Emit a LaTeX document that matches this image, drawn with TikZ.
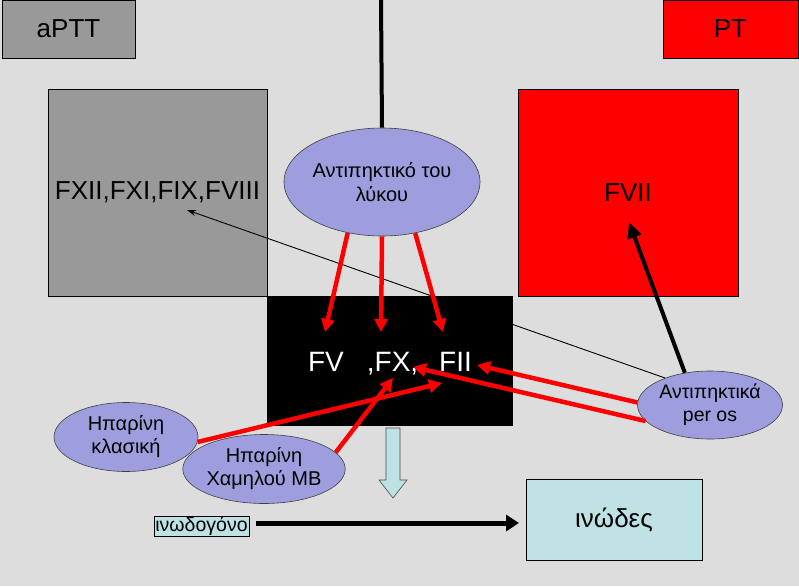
\documentclass[tikz,border=0pt]{standalone}
\usepackage{fontspec}
\setmainfont{Liberation Sans}
\usetikzlibrary{shapes.geometric,arrows.meta}
\definecolor{bg}{RGB}{221,221,221}
\definecolor{boxgray}{RGB}{153,153,153}
\definecolor{lav}{RGB}{158,158,222}
\definecolor{ice}{RGB}{190,225,228}
\definecolor{pred}{RGB}{255,0,0}
\begin{document}
\begin{tikzpicture}[x=1pt,y=-1pt,
  sqbox/.style={draw=black,line width=0.8pt,inner sep=0pt,font=\fontsize{26}{30}\selectfont},
  oval/.style={ellipse,draw=black!75,line width=0.6pt,fill=lav,inner sep=0pt,align=center},
  redarrow/.style={draw=pred,line width=4.5pt,-{Triangle[length=13pt,width=13pt]}},
  blackarrow/.style={draw=black,line width=4pt,-{Triangle[length=16pt,width=14pt]}},
  thinarrow/.style={draw=black,line width=0.9pt,-{Stealth[length=9pt,width=6pt]}}]
\fill[bg] (0,0) rectangle (799,586);
\useasboundingbox (0,0) rectangle (799,586);

% top labels
\node[sqbox,fill=boxgray,minimum width=133pt,minimum height=58pt] (aptt) at (68.5,29) {aPTT};
\node[sqbox,fill=pred,minimum width=135pt,minimum height=58pt] (pt) at (730.5,29) {PT};

% factor boxes
\node[sqbox,fill=boxgray,minimum width=219pt,minimum height=207pt] (intr) at (157.5,192.5) {FXII,FXI,FIX,FVIII};
\node[sqbox,fill=pred,minimum width=220pt,minimum height=207pt] (extr) at (628,192.5) {FVII};

% ellipses
\node[oval,minimum width=190pt,minimum height=108pt,font=\fontsize{20}{24}\selectfont] (lupus) at (382,182) {Αντιπηκτικό του\\λύκου};
\node[oval,minimum width=145pt,minimum height=68pt,font=\fontsize{19.5}{23}\selectfont] (peros) at (710,405) {Αντιπηκτικά\\per os};

% thin arrow (behind common box)
\coordinate (fixtip) at (187,210);
\draw[thinarrow] (peros.149) -- (fixtip);

% common pathway box
\node[sqbox,fill=black,minimum width=245pt,minimum height=129pt] (common) at (389.5,360.5) {};
\node[text=white,font=\fontsize{28}{32}\selectfont,inner sep=0pt] (commontxt) at (390,364) {FV\hspace{23pt},FX,\hspace{21pt}FII};

% vertical line from top to lupus ellipse
\coordinate (topline) at (381,0);
\draw[line width=4pt] (topline) -- (lupus.north);

% heparin ellipses
\node[oval,minimum width=144pt,minimum height=69pt,font=\fontsize{20}{23}\selectfont] (hepc) at (126,437) {Ηπαρίνη\\κλασική};
\node[oval,minimum width=145pt,minimum height=69pt,font=\fontsize{20}{23}\selectfont] (hepl) at (264,469) {Ηπαρίνη\\Χαμηλού ΜΒ};

% target points
\coordinate (tFV) at (325,332);
\coordinate (tFX) at (381,332);
\coordinate (tFII) at (443,332);
\coordinate (tComma) at (413,367);
\coordinate (tFIIr) at (477,365);
\coordinate (tHepC) at (442,383);
\coordinate (tHepL) at (393,378);
\coordinate (tFVII) at (629,222);

% red arrows from lupus anticoagulant
\draw[redarrow] (lupus.236) -- (tFV);
\draw[redarrow] (lupus.270) -- (tFX);
\draw[redarrow] (lupus.303) -- (tFII);

% red arrows from oral anticoagulants
\draw[redarrow] (peros.178) -- (tFIIr);
\draw[redarrow] (peros.194) -- (tComma);

% red arrows from heparins
\draw[redarrow] (hepc.356) -- (tHepC);
\draw[redarrow] (hepl.13) -- (tHepL);

% thick arrow to FVII
\draw[blackarrow] (peros.128) -- (tFVII);

% block down arrow
\draw[fill=ice,draw=black!70,line width=0.6pt]
  (386,428) -- (400,428) -- (400,480) -- (407,480) -- (393,498) -- (379,480) -- (386,480) -- cycle;

% fibrinogen -> fibrin
\node[draw=black,line width=0.8pt,fill=ice,inner sep=0.5pt,minimum width=95pt,minimum height=19pt,font=\fontsize{19.5}{21}\selectfont] (fib) at (201.5,526.5) {ινωδογόνο};
\node[draw=black,line width=0.8pt,fill=ice,minimum width=176pt,minimum height=81pt,font=\fontsize{26}{30}\selectfont] (fibrin) at (614,519.5) {ινώδες};
\coordinate (fa) at (256,523);
\coordinate (fb) at (519,523);
\draw[draw=black,line width=5pt,-{Triangle[length=13pt,width=16pt]}] (fa) -- (fb);
\end{tikzpicture}
\end{document}
